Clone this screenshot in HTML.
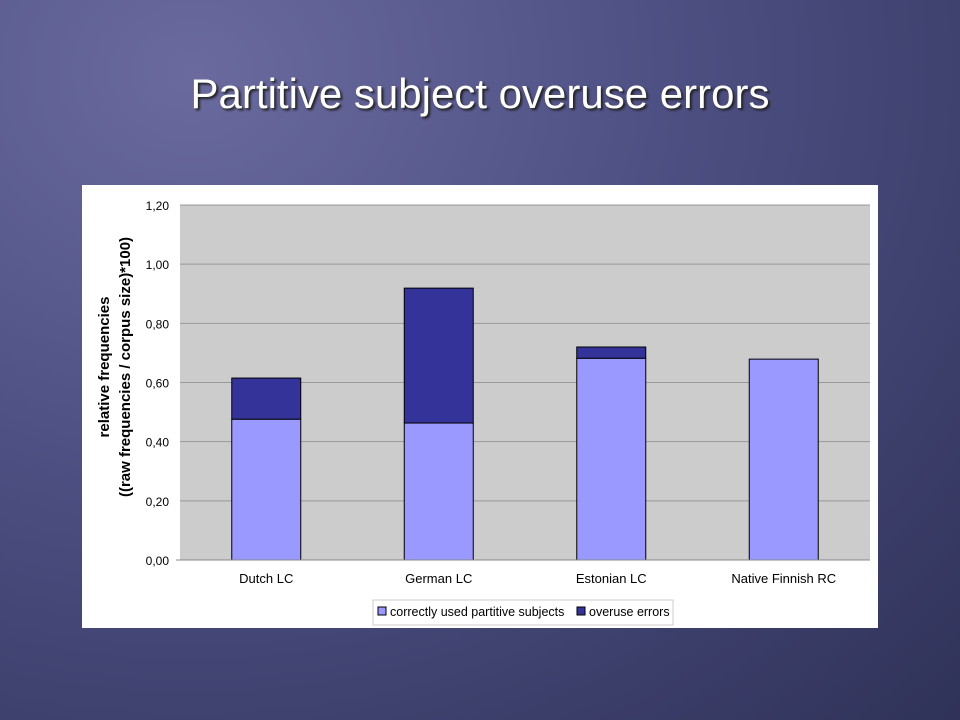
<!DOCTYPE html>
<html><head><meta charset="utf-8"><style>
body{margin:0;width:960px;height:720px;overflow:hidden;font-family:"Liberation Sans",sans-serif;}
#bg{position:absolute;left:0;top:0;width:960px;height:720px;background:radial-gradient(ellipse at 20% 10%,#6a6a9e 0%,#4d4f82 45%,#2f3258 100%);}
#title{position:absolute;left:0;width:960px;top:70px;text-align:center;color:#fff;font-size:42px;text-shadow:2px 2px 2px #222;}
#panel{position:absolute;left:82px;top:185px;width:796px;height:443px;background:#fff;}
</style></head><body>
<div id="bg"></div>
<div id="title">Partitive subject overuse errors</div>
<div id="panel"></div>
<svg id="chart" width="960" height="720" style="position:absolute;left:0;top:0">
<g id="plot"></g>
<text transform="translate(119,367) rotate(-90)" text-anchor="middle" font-size="15" font-weight="bold" fill="#000"><tspan x="0" dy="-10">relative frequencies</tspan><tspan x="0" dy="21">((raw frequencies / corpus size)*100)</tspan></text>
<g>
<rect x="373" y="600" width="300" height="25" fill="#fff" stroke="#ccc"/>
<rect x="378" y="607" width="8" height="8" fill="#9999ff" stroke="#000"/>
<text x="390" y="616" font-size="12.5">correctly used partitive subjects</text>
<rect x="577" y="607" width="8" height="8" fill="#333399" stroke="#000"/>
<text x="589" y="616" font-size="12.5">overuse errors</text>
</g>
</svg>
<script>
const categories=["Dutch LC","German LC","Estonian LC","Native Finnish RC"];
const correct=[0.476,0.463,0.682,0.679];
const overuse=[0.139,0.456,0.038,0];
const yTicks=[0,0.2,0.4,0.6,0.8,1.0,1.2];
const yTickLabels=["0,00","0,20","0,40","0,60","0,80","1,00","1,20"];
const X0=180,X1=870,Y0=560,Y1=205,YMAX=1.2;
const ns="http://www.w3.org/2000/svg";
const g=document.getElementById('plot');
function y(v){return Y0-(v/YMAX)*(Y0-Y1);}
const bw=(X1-X0)/categories.length;
function xc(i){return X0+bw*(i+0.5);}
function mk(t,a){const e=document.createElementNS(ns,t);for(const k in a)e.setAttribute(k,a[k]);g.appendChild(e);return e;}
let bgR=mk('rect',{x:X0,y:Y1,width:X1-X0,height:Y0-Y1,fill:'#cccccc'});


yTicks.forEach((t,i)=>{
 let l=mk('line',{x1:X0,x2:X1,y1:y(t),y2:y(t),stroke:'#999','stroke-width':1});
 
 
 let tx=mk('text',{x:169,y:y(t)+5,'text-anchor':'end','font-size':12});
 tx.textContent=yTickLabels[i];
 
 
});
categories.forEach((c,i)=>{
 const w=bw*0.4,x=xc(i)-w/2;
 let r1=mk('rect',{x:x,y:y(correct[i]),width:w,height:Y0-y(correct[i]),fill:'#9999ff',stroke:'#000','stroke-width':1});
 
 
 if(overuse[i]>0){
 let r2=mk('rect',{x:x,y:y(correct[i]+overuse[i]),width:w,height:y(correct[i])-y(correct[i]+overuse[i]),fill:'#333399',stroke:'#000','stroke-width':1});
 
 
 }
 let tx=mk('text',{x:xc(i),y:583,'text-anchor':'middle','font-size':13});
 tx.textContent=c;
 
 
});
let ax=mk('line',{x1:X0-4,x2:X1,y1:Y0,y2:Y0,stroke:'#888'});


</script>
</body></html>
